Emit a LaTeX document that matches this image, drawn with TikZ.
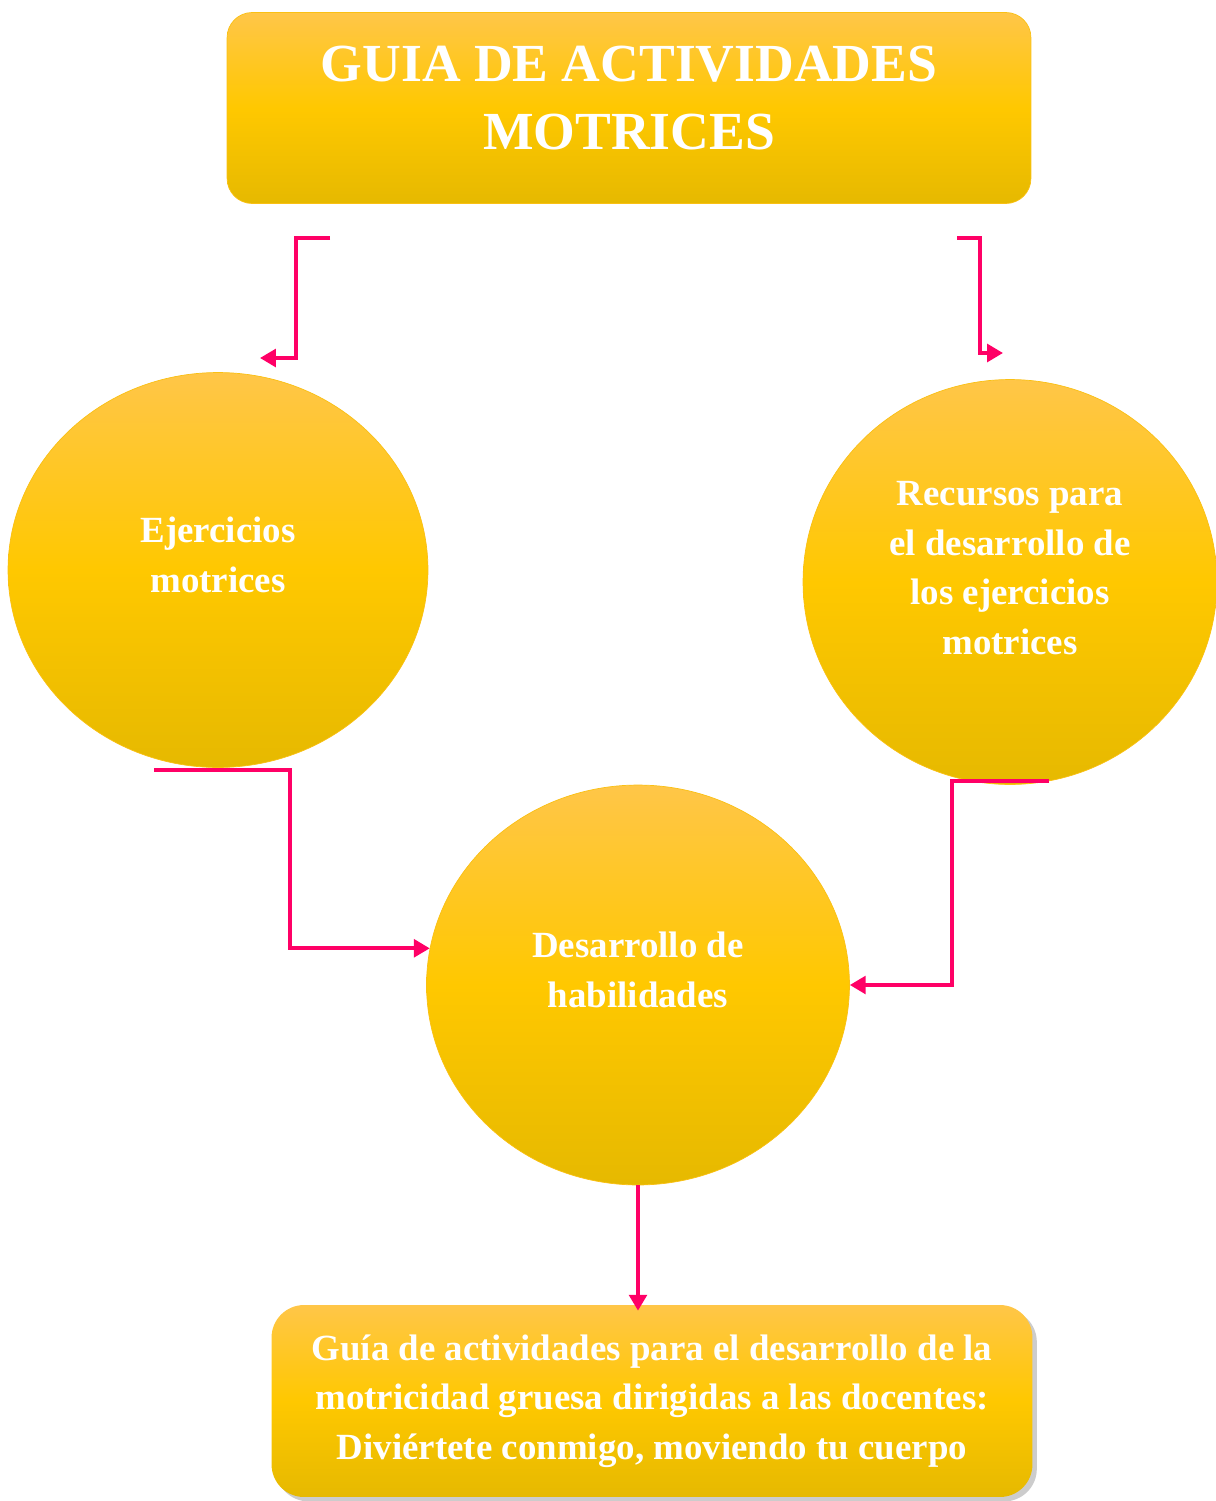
\documentclass[tikz,border=0pt]{standalone}
\usepackage{fontspec}
\setmainfont{Liberation Serif}
\usepackage{xcolor}
\usepackage{tikz}
\usetikzlibrary{arrows.meta,shapes.geometric,shadows,calc}

\definecolor{goldtop}{RGB}{255,198,72}
\definecolor{goldmid}{RGB}{255,200,0}
\definecolor{goldbot}{RGB}{230,185,0}
\definecolor{goldline}{RGB}{250,192,20}
\definecolor{flowpink}{RGB}{255,0,102}

\begin{document}
\begin{tikzpicture}[x=0.02cm, y=-0.02cm,
        txt/.style={text=white, font=\bfseries\fontsize{21}{28.3}\selectfont, align=center, inner sep=0pt},
        gold/.style={txt, draw=goldline, line width=0.4pt, top color=goldtop, bottom color=goldbot, middle color=goldmid},
        blob/.style={gold, ellipse},
        flow/.style={draw=flowpink, line width=2.1pt, -{Triangle[length=9pt,width=10pt]}}]
            \path[use as bounding box] (0,0) rectangle (1216,1501);

            \node[gold, rounded corners=0.5cm, minimum width=16.08cm, minimum height=3.82cm,
                  label={[yshift=0.2cm, txt, font=\bfseries\fontsize{30.5}{38.6}\selectfont]center:GUIA DE ACTIVIDADES\\MOTRICES}] (titulo) at (629,108) {};

            \node[blob, minimum width=8.4cm, minimum height=7.9cm,
                  label={[yshift=0.3cm, txt]center:Ejercicios\\motrices}] (ejer) at (218,570) {};
            \node[blob, minimum width=8.28cm, minimum height=8.1cm,
                  label={[yshift=0.28cm, txt]center:Recursos para\\el desarrollo de\\los ejercicios\\motrices}] (recu) at (1010,582) {};
            \node[blob, minimum width=8.46cm, minimum height=8cm,
                  label={[yshift=0.3cm, txt]center:Desarrollo de\\habilidades}] (desa) at (638,985) {};

            \node[gold, draw=none, rounded corners=0.65cm, minimum width=15.22cm, minimum height=3.84cm,
                  drop shadow={shadow xshift=2.5pt, shadow yshift=-2.5pt, opacity=0.4}] (guia) at (652,1401)
                 {Guía de actividades para el desarrollo de la\\motricidad gruesa dirigidas a las docentes:\\Diviértete conmigo, moviendo tu cuerpo};

            \coordinate (s1) at (330,238);
            \coordinate (e1) at (260,358);
            \coordinate (s2) at (957,238);
            \coordinate (e2) at (1003,353);
            \coordinate (s3) at (154,770);
            \coordinate (s4) at (1049,781);

            \draw[flow] (s1) -- ++(-34,0) |- (e1);
            \draw[flow] (s2) -- ++(23,0) |- (e2);
            \draw[flow] (s3) -- ++(136,0) |- (desa.170);
            \draw[flow] (s4) -- ++(-97,0) |- (desa.east);
            \draw[flow] (desa.south) -- ($(desa.south |- guia.north)+(0,6)$);
        \end{tikzpicture}
\end{document}
